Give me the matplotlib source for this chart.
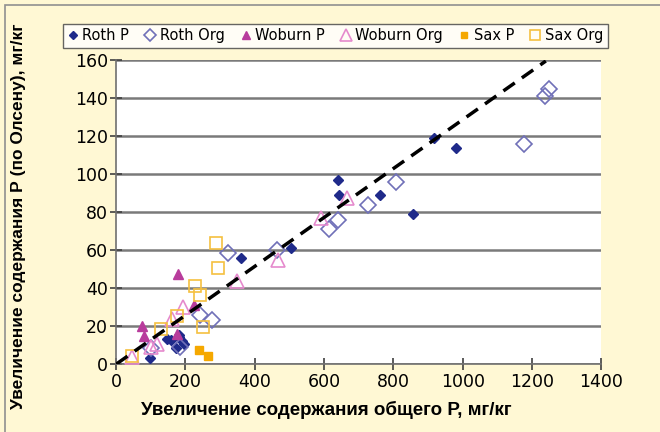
import matplotlib.pyplot as plt
from matplotlib.patches import Rectangle

# data (total P increase, Olsen P increase), mg/kg
roth_p_x = [98, 146, 158, 182, 182, 173, 197, 190, 360, 505, 641, 644, 761, 857, 918, 982]
roth_p_y = [3.3, 13, 12.6, 15.6, 14.4, 8.3, 10.5, 12, 56, 61, 97, 89, 89, 79, 119, 113.5]
roth_org_x = [100, 185, 242, 278, 324, 463, 615, 641, 726, 807, 1178, 1237, 1250]
roth_org_y = [8.6, 9, 26, 23.5, 58.6, 60, 71, 76, 84, 96, 116, 141, 145]
wob_p_x = [76, 79, 178, 226, 175]
wob_p_y = [20, 14.7, 47.4, 31, 16]
wob_org_x = [47, 101, 119, 194, 160, 348, 466, 590, 665]
wob_org_y = [3.8, 9, 10.5, 30, 24, 44, 55, 77, 87.5]
sax_p_x = [239, 266]
sax_p_y = [7.4, 4.2]
sax_org_x = [47, 128, 177, 228, 242, 250, 288, 293]
sax_org_y = [4.2, 18.4, 25.4, 41, 36.5, 19.6, 64, 50.7]
line_x = [0, 1240]
line_y = [0, 159.5]

bg = '#FFF8D4'
fig = plt.figure(figsize=(6.6, 4.32), dpi=100, facecolor=bg)
ax = fig.add_axes([0.176, 0.157, 0.735, 0.704])
ax.set_facecolor('white')

ax.plot(roth_p_x, roth_p_y, 'D', color='#1F2A8A', ms=5, ls='none', label='Roth P', zorder=3)
ax.plot(roth_org_x, roth_org_y, 'D', mfc='none', mec='#7070B8', mew=1.2, ms=8, ls='none', label='Roth Org', zorder=3)
ax.plot(wob_p_x, wob_p_y, '^', color='#B83C9C', ms=7, ls='none', label='Woburn P', zorder=3)
ax.plot(wob_org_x, wob_org_y, '^', mfc='none', mec='#E58ACD', mew=1.2, ms=10, ls='none', label='Woburn Org', zorder=3)
ax.plot(sax_p_x, sax_p_y, 's', color='#F5A800', ms=6, ls='none', label='Sax P', zorder=3)
ax.plot(sax_org_x, sax_org_y, 's', mfc='none', mec='#F5C040', mew=1.2, ms=9, ls='none', label='Sax Org', zorder=3)
ax.plot(line_x, line_y, color='black', lw=2.5, ls=(0, (4, 2.5)), zorder=4)

ax.set_xlim(0, 1400)
ax.set_ylim(0, 160)
ax.set_xticks(range(0, 1401, 200))
ax.set_yticks(range(0, 161, 20))
ax.yaxis.grid(True, color='#7a7a7a', lw=1.8)
ax.set_axisbelow(True)
for s in ['top', 'right']:
    ax.spines[s].set_visible(False)
for s in ['left', 'bottom']:
    ax.spines[s].set_color('#707070')
    ax.spines[s].set_linewidth(1.2)
ax.tick_params(direction='inout', length=8, width=1.2, color='#404040', labelsize=12.5, pad=2)

fig.text(0.495, 0.05, 'Увеличение содержания общего Р, мг/кг', ha='center', va='center',
         fontsize=13.5, fontweight='bold', family='Liberation Sans')
fig.text(0.028, 0.5, 'Увеличение содержания Р (по Олсену), мг/кг', ha='center', va='center',
         rotation=90, fontsize=12.5, fontweight='bold', family='Liberation Sans')

leg = fig.legend(loc='center', bbox_to_anchor=(0.508, 0.917), ncol=6, fontsize=10.5,
                 frameon=True, fancybox=False, edgecolor='#404040', handlelength=0.7,
                 handletextpad=0.3, columnspacing=1.1, borderpad=0.3, markerscale=0.8)
leg.get_frame().set_linewidth(1.0)

fig.add_artist(Rectangle((0.008, -0.1), 1.2, 1.088, transform=fig.transFigure,
                         fill=False, edgecolor='#909090', lw=1.2))

fig.savefig('out.png', dpi=100, facecolor=bg)
